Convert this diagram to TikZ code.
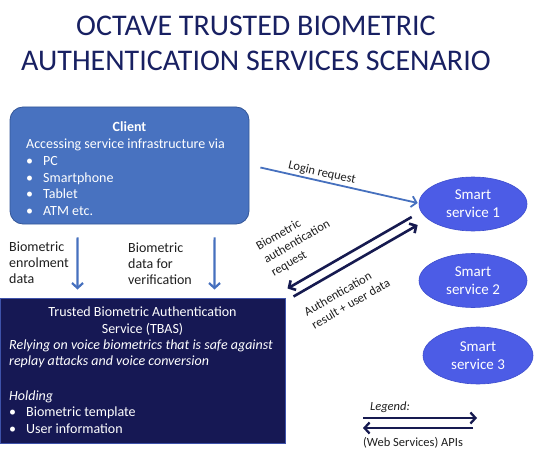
\documentclass[tikz,border=0pt]{standalone}
\usepackage{fontspec}
\setmainfont{Carlito}
\usetikzlibrary{arrows.meta,shapes.geometric}

\definecolor{titleblue}{RGB}{24,32,98}
\definecolor{clientblue}{RGB}{72,114,192}
\definecolor{clientline}{RGB}{52,86,152}
\definecolor{tbasblue}{RGB}{22,24,84}
\definecolor{tbasline}{RGB}{62,82,170}
\definecolor{smartblue}{RGB}{76,92,230}
\definecolor{smartline}{RGB}{62,78,205}
\definecolor{flowblue}{RGB}{70,112,190}
\definecolor{apinavy}{RGB}{22,26,80}
\definecolor{lbltext}{RGB}{30,30,30}

\newcommand{\bodyfont}{\fontsize{14}{16.6}\selectfont}
\newcommand{\bul}{\makebox[17pt][l]{\textbullet}}

\tikzset{
  titletext/.style={align=center, inner sep=0pt, text=titleblue, font=\fontsize{30}{35}\selectfont},
  clientbox/.style={rectangle, rounded corners=13pt, fill=clientblue, draw=clientline, line width=0.8pt, minimum width=239pt, minimum height=117pt},
  tbasbox/.style={rectangle, fill=tbasblue, draw=tbasline, line width=1pt, minimum width=285pt, minimum height=145pt},
  boxtext/.style={inner sep=0pt, text=white, align=left, font=\bodyfont},
  smart/.style={ellipse, fill=smartblue, draw=smartline, line width=0.6pt, minimum width=108pt, minimum height=54pt, inner sep=0pt, text=white, align=center, font=\fontsize{15}{18}\selectfont},
  lbl/.style={inner sep=0pt, text=lbltext, align=left, font=\fontsize{14}{16}\selectfont},
  arrlbl/.style={inner sep=0pt, text=lbltext, align=left, font=\fontsize{12.5}{15}\selectfont},
  flowarrow/.style={-{Straight Barb[length=5pt,width=11pt]}, line width=2.2pt, flowblue},
  apiarrow/.style={-{Straight Barb[length=5pt,width=11pt]}, line width=2.6pt, apinavy}
}

\begin{document}
\begin{tikzpicture}[x=1pt, y=-1pt]
\useasboundingbox (0,0) rectangle (534,462);

% title
\node[titletext] (title) at (256,43.5) {OCTAVE TRUSTED BIOMETRIC\\AUTHENTICATION SERVICES SCENARIO};

% client box (base anchor sits on the last line)
\node[clientbox] (client) at (129.5,165.5) {};
\node[boxtext, font=\bodyfont\bfseries, anchor=base] (clienthead) at (129.5,131.5) {Client};
\node[boxtext, anchor=base west] (clientbody) at (26,215.3) {Accessing service infrastructure via\\
  \bul PC\\ \bul Smartphone\\ \bul Tablet\\ \bul ATM etc.};

% TBAS box
\node[tbasbox] (tbas) at (142.5,370.5) {};
\node[boxtext, align=center, anchor=base] (tbashead) at (142.5,333.5) {Trusted Biometric Authentication\\Service (TBAS)};
\node[boxtext, anchor=base west] (tbasbody) at (9,433.5) {\textit{Relying on voice biometrics that is safe against}\\
  \textit{replay attacks and voice conversion}\\[18pt]
  \textit{Holding}\\ \bul Biometric template\\ \bul User information};

% smart services
\node[smart] (ss1) at (473,204) {Smart\\service 1};
\node[smart] (ss2) at (473,280.5) {Smart\\service 2};
\node[smart, minimum width=110pt, minimum height=57pt] (ss3) at (478,355.5) {Smart\\service 3};

% client -> TBAS
\draw[flowarrow] ([shift={(68,13)}]client.south west) -- ([shift={(78,-8)}]tbas.north west);
\draw[flowarrow] ([shift={(205,13)}]client.south west) -- ([shift={(215,-8)}]tbas.north west);
\node[lbl, anchor=base west] (enrol) at (9,283.5) {Biometric\\enrolment\\data};
\node[lbl, anchor=base west] (verif) at (128,284.5) {Biometric\\data for\\verification};

% client -> service 1
\draw[flowarrow, line width=1.8pt] ([shift={(11,2)}]client.east) -- ([shift={(-1,-1)}]ss1.west);
\node[arrlbl, rotate=-13] (login) at (322,173) {Login request};

% service 1 <-> TBAS
\draw[apiarrow] ([shift={(-7,13)}]ss1.west) -- ([shift={(2,-9)}]tbas.north east);
\draw[apiarrow] ([shift={(8,-1)}]tbas.north east) -- ([shift={(-1,21)}]ss1.west);
\node[arrlbl, rotate=30] (authreq) at (297,242) {Biometric\\authentication\\request};
\node[arrlbl, rotate=30] (authres) at (347,297) {Authentication\\result + user data};

% legend
\node[arrlbl, font=\fontsize{12.5}{15}\selectfont\itshape] (legend) at (390,407) {Legend:};
\coordinate (lgA) at (363,418);
\coordinate (lgB) at (477,418);
\coordinate (lgC) at (473,428);
\coordinate (lgD) at (363,428);
\draw[apiarrow, line width=2.3pt] (lgA) -- (lgB);
\draw[apiarrow, line width=2.3pt] (lgC) -- (lgD);
\node[arrlbl] (apis) at (413,443) {(Web Services) APIs};
\end{tikzpicture}
\end{document}
